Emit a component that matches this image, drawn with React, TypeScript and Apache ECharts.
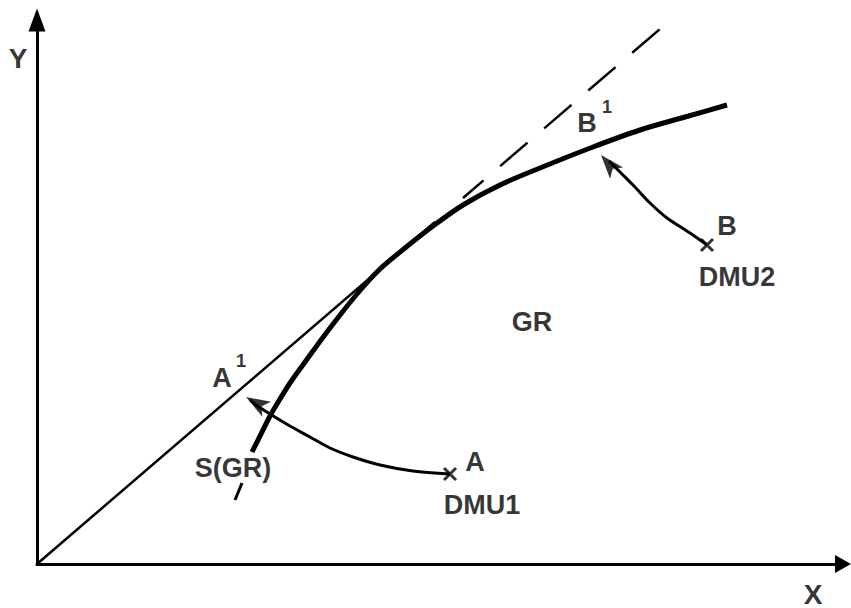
import React, { useEffect, useRef } from "react";
import * as echarts from "echarts";

// All values are in chart units measured from the axes' origin.
const frontierX = [215, 224, 233, 243, 253, 268, 293, 320, 343, 368, 396, 426, 463, 503, 556, 603, 648, 690];
const frontierY = [112, 130, 148, 165, 181, 202, 236, 270, 295, 316, 338, 359, 379, 396, 417, 434, 447, 459];
const rayX = [0, 398];
const rayY = [0, 342];
const rayDashX = [426, 623];
const rayDashY = [366, 535];
const stubX = [198, 205];
const stubY = [64, 81];
const pathAX = [413, 376, 343, 316, 293, 273, 253, 233, 219, 213];
const pathAY = [90, 93, 99, 107, 116, 127, 138, 150, 159, 164];
const pathBX = [670, 653, 630, 613, 596, 583, 572];
const pathBY = [319, 331, 346, 361, 379, 392, 403];
const dmuX = [413, 670];
const dmuY = [90, 319];
const headX = [209, 564];
const headY = [167, 409];
const headAngle = [59.5, 40.6];
const labelText = ["A", "DMU1", "B", "DMU2", "B", "A", "S(GR)", "GR"];
const labelX = [438, 445, 690, 700, 550, 185, 196, 495];
const labelY = [102, 59, 338, 287, 441, 186, 96, 242];
const supText = ["1", "1"];
const supX = [570, 204];
const supY = [457, 203];
const axisNames = ["X", "Y"];
const axisNameX = [776, -19];
const axisNameY = [-30, 506];

const zip = (xs: number[], ys: number[]) => xs.map((x, i) => [x, ys[i]]);

const FONT = "'Liberation Sans', Arial, Helvetica, sans-serif";

export default function App() {
  const ref = useRef<HTMLDivElement>(null);
  useEffect(() => {
    if (!ref.current) return;
    const chart = echarts.init(ref.current, undefined, { renderer: "svg" });
    const black = "#000";
    const lineBase = { type: "line", symbol: "none", silent: true };
    const textSeries = (texts: string[], xs: number[], ys: number[], size: number) => ({
      type: "scatter",
      clip: false,
      silent: true,
      symbol: "circle",
      symbolSize: 1,
      itemStyle: { color: "transparent" },
      data: texts.map((t, i) => ({ name: t, value: [xs[i], ys[i]] })),
      label: {
        show: true,
        position: "inside",
        formatter: "{b}",
        color: black,
        textBorderWidth: 0,
        fontFamily: FONT,
        fontWeight: "bold",
        fontSize: size,
        align: "center",
        verticalAlign: "middle",
      },
    });
    chart.setOption({
      animation: false,
      backgroundColor: "#fff",
      grid: { left: 37, right: 8, top: 20, bottom: 44 },
      xAxis: {
        type: "value",
        min: 0,
        max: 806,
        axisLine: {
          show: true,
          symbol: ["none", "triangle"],
          symbolSize: [18, 16],
          lineStyle: { color: black, width: 3 },
        },
        axisTick: { show: false },
        axisLabel: { show: false },
        splitLine: { show: false },
      },
      yAxis: {
        type: "value",
        min: 0,
        max: 544,
        axisLine: {
          show: true,
          symbol: ["none", "triangle"],
          symbolSize: [17, 23],
          lineStyle: { color: black, width: 3 },
        },
        axisTick: { show: false },
        axisLabel: { show: false },
        splitLine: { show: false },
      },
      series: [
        { ...lineBase, data: zip(rayX, rayY), lineStyle: { color: black, width: 2.5 } },
        {
          ...lineBase,
          data: zip(rayDashX, rayDashY),
          lineStyle: { color: black, width: 2.5, type: [36, 22], dashOffset: 9 },
        },
        { ...lineBase, smooth: 0.3, data: zip(frontierX, frontierY), lineStyle: { color: black, width: 5 } },
        { ...lineBase, data: zip(stubX, stubY), lineStyle: { color: black, width: 3 } },
        { ...lineBase, smooth: 0.3, data: zip(pathAX, pathAY), lineStyle: { color: black, width: 3 } },
        { ...lineBase, smooth: 0.3, data: zip(pathBX, pathBY), lineStyle: { color: black, width: 3 } },
        {
          type: "scatter",
          silent: true,
          symbol: "arrow",
          symbolSize: [13, 24],
          itemStyle: { color: black },
          data: headX.map((x, i) => ({ value: [x, headY[i]], symbolRotate: headAngle[i] })),
        },
        {
          type: "scatter",
          silent: true,
          symbol: "path://M0 0L10 10M10 0L0 10",
          symbolSize: 12,
          itemStyle: { color: "none", borderColor: black, borderWidth: 3 },
          data: zip(dmuX, dmuY),
        },
        textSeries(labelText, labelX, labelY, 27),
        textSeries(supText, supX, supY, 18),
        textSeries(axisNames, axisNameX, axisNameY, 28),
      ],
    });
    return () => chart.dispose();
  }, []);
  return (
    <div
      ref={ref}
      style={{ position: "absolute", left: 0, top: 0, width: 851, height: 608 }}
    />
  );
}
